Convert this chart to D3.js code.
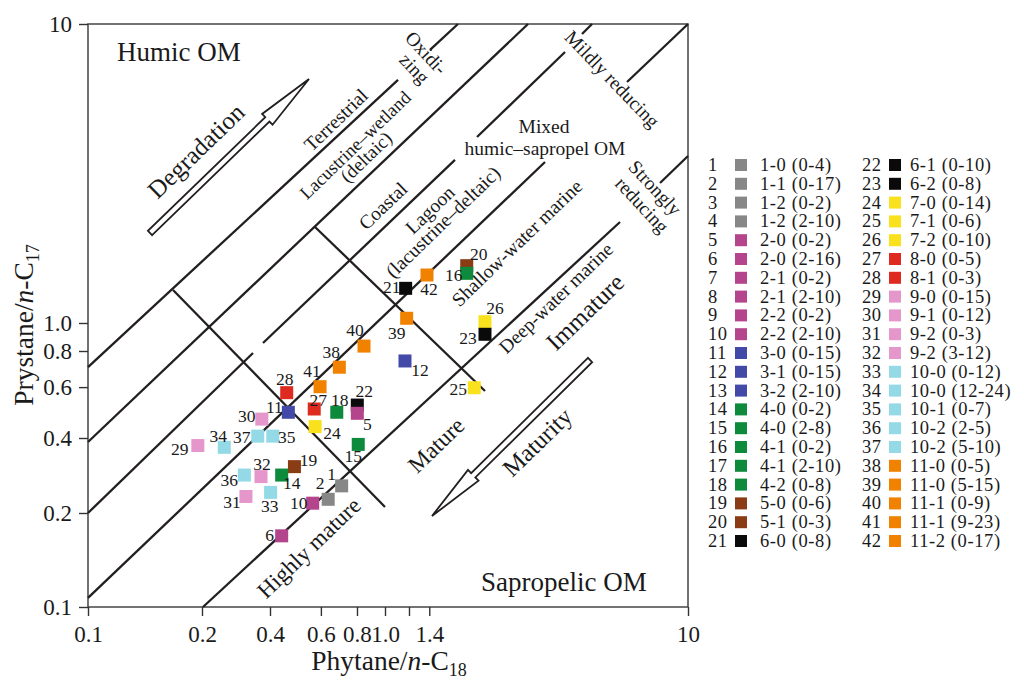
<!DOCTYPE html>
<html><head><meta charset="utf-8">
<script src="https://cdn.jsdelivr.net/npm/d3@7"></script>
<style>
body{margin:0;background:#fff}
text{font-family:"Liberation Serif","Times New Roman",serif;fill:#1a1a1a}
</style>
</head><body>
<svg id="chart" width="1019" height="679" font-family="Liberation Serif, serif"></svg>
<script>
// ---------------- DATA ----------------
const xTicks = [0.1, 0.2, 0.4, 0.6, 0.8, 1.0, 1.2, 1.4, 10];
const xTickLabels = ["0.1", "0.2", "0.4", "0.6", "0.8", "1.0", "", "1.4", "10"];
const yTicks = [0.1, 0.2, 0.4, 0.6, 0.8, 1.0, 10];
const yTickLabels = ["0.1", "0.2", "0.4", "0.6", "0.8", "1.0", "10"];

const sampleNames = ["1-0 (0-4)","1-1 (0-17)","1-2 (0-2)","1-2 (2-10)","2-0 (0-2)","2-0 (2-16)","2-1 (0-2)",
  "2-1 (2-10)","2-2 (0-2)","2-2 (2-10)","3-0 (0-15)","3-1 (0-15)","3-2 (2-10)","4-0 (0-2)","4-0 (2-8)",
  "4-1 (0-2)","4-1 (2-10)","4-2 (0-8)","5-0 (0-6)","5-1 (0-3)","6-0 (0-8)","6-1 (0-10)","6-2 (0-8)",
  "7-0 (0-14)","7-1 (0-6)","7-2 (0-10)","8-0 (0-5)","8-1 (0-3)","9-0 (0-15)","9-1 (0-12)","9-2 (0-3)",
  "9-2 (3-12)","10-0 (0-12)","10-0 (12-24)","10-1 (0-7)","10-2 (2-5)","10-2 (5-10)","11-0 (0-5)",
  "11-0 (5-15)","11-1 (0-9)","11-1 (9-23)","11-2 (0-17)"];
const sampleGroup = [1,1,1,1,2,2,2,2,2,2,3,3,3,4,4,4,4,4,5,5,6,6,6,7,7,7,8,8,9,9,9,9,10,10,10,10,10,11,11,11,11,11];
const groupColors = ["#878787","#b4448c","#4349a7","#0d8a3b","#8a3c14","#0a0a0a","#f9e11e","#df2a20","#e597cb","#93d9e6","#f08200"];

// Phytane/n-C18 (x) and Pristane/n-C17 (y); null = not visible in the plot
const phytane = [0.708,0.636,null,null,0.802,0.439,null,null,null,0.562,0.463,1.164,null,0.439,0.808,
  1.861,null,0.681,0.486,1.861,1.170,0.802,2.138,0.573,1.971,2.138,0.569,0.457,0.195,0.368,0.313,
  0.365,0.402,0.251,0.409,0.308,0.353,0.695,1.179,0.846,0.596,1.376];
const pristane = [0.257,0.227,null,null,0.487,0.169,null,null,null,0.219,0.491,0.739,null,0.284,0.377,
  1.466,null,0.491,0.307,1.555,1.306,0.520,0.914,0.438,0.597,1.010,0.504,0.574,0.373,0.465,0.233,
  0.280,0.242,0.367,0.406,0.284,0.406,0.703,1.037,0.832,0.602,1.447];

// boundary lines of the genetic diagram: [x1, y1, x2, y2] in data units
const boundaryLines = [
  [0.1, 0.704, 1.104, 6.50],      // A (terrestrial / lacustrine-wetland)
  [1.408, 8.19, 1.741, 10],
  [0.1, 0.3855, 2.965, 10],       // B
  [0.1, 0.2, 0.3364, 0.7873],     // C
  [0.3725, 0.8527, 1.702, 3.510],
  [2.012, 4.189, 3.928, 8.062],
  [4.468, 9.26, 4.823, 10],
  [0.1, 0.1069, 3.374, 3.455],    // D
  [6.291, 6.397, 10, 10],
  [0.2020, 0.1, 5.965, 2.177],    // E
  [8.085, 2.939, 10, 3.619],
  [0.1677, 1.289, 1.0, 0.2114],   // maturity boundaries
  [0.5725, 2.095, 2.138, 0.5817]
];
// hollow arrows: [tailX, tailY, tipX, tipY]
const arrows = [
  [0.1458, 2.000, 0.5458, 6.547], // Degradation
  [4.750, 0.7447, 1.429, 0.1956]  // Maturity
];
// field annotations: text, x, y (data units), angle, size
const annotations = [
  ["Degradation", 0.1928, 3.761, -44, 25],
  ["Terrestrial", 0.6768, 4.776, -44, 19.5],
  ["Lacustrine\u2013wetland", 0.7900, 3.930, -44, 18.5],
  ["(deltaic)", 0.8597, 3.592, -44, 19],
  ["Coastal", 0.9842, 2.462, -44, 19.5],
  ["Oxidi-", 1.366, 8.0, 47, 19.5],
  ["zing", 1.250, 7.10, 47, 19.5],
  ["Mildly reducing", 5.614, 6.547, 46, 19.5],
  ["Strongly", 7.782, 2.829, 47, 19.5],
  ["reducing", 7.050, 2.481, 47, 19.5],
  ["Lagoon", 1.408, 2.388, -44, 19.5],
  ["(lacustrine\u2013deltaic)", 1.554, 2.177, -44, 19.5],
  ["Shallow-water marine", 2.727, 1.852, -44, 19.5],
  ["Deep-water marine", 3.667, 1.212, -44, 19.5],
  ["Immature", 4.571, 1.088, -44, 25],
  ["Mature", 1.474, 0.375, -44, 23.5],
  ["Highly mature", 0.5458, 0.1545, -44, 23],
  ["Maturity", 3.176, 0.3855, -44, 24.5]
];
const flatAnnotations = [
  ["Humic OM", 0.1193, 7.52, "start", 27],
  ["Sapropelic OM", 2.074, 0.1125, "start", 27],
  ["Mixed", 3.348, 4.320, "middle", 19.5],
  ["humic\u2013sapropel OM", 3.373, 3.646, "middle", 19.5]
];

// ---------------- LAYOUT ----------------
const labelOffset = {1:[-10,-12],2:[-8,-16],5:[10,11],6:[-12,-1],10:[-14,0],11:[-14,-5],12:[15,9],14:[10,8],
  15:[-5,12],16:[-13,2],18:[3,-12],19:[14,-7],20:[12,-12],21:[-14,-1],22:[7,-14],23:[-17,4],24:[17,6],
  25:[-16,1],26:[10,-14],27:[4,-9],28:[-2,-14],29:[-18,3],30:[-15,-3],31:[-14,6],32:[1,-13],33:[-1,14],
  34:[-6,-11],35:[14,1],36:[-15,5],37:[-16,1],38:[-8,-15],39:[-10,15],40:[-9,-16],41:[-8,-16],42:[2,14]};

const svg = d3.select("#chart");
const x = d3.scaleLog().domain([0.1, 0.2, 0.4, 1, 10]).range([88, 202, 270, 385, 688]);
const y = d3.scaleLog().domain([0.1, 0.2, 0.4, 1, 10]).range([607, 513, 438, 323, 24]);
const ink = "#231f20";

// frame
svg.append("rect").attr("x", x(0.1)).attr("y", y(10)).attr("width", x(10) - x(0.1)).attr("height", y(0.1) - y(10))
  .attr("fill", "none").attr("stroke", "#444").attr("stroke-width", 1.5);

// axes
const xAxis = svg.append("g").attr("transform", `translate(0,${y(0.1)})`)
  .call(d3.axisBottom(x).tickValues(xTicks).tickFormat((d, i) => xTickLabels[i]).tickSize(9).tickPadding(10));
const yAxis = svg.append("g").attr("transform", `translate(${x(0.1)},0)`)
  .call(d3.axisLeft(y).tickValues(yTicks).tickFormat((d, i) => yTickLabels[i]).tickSize(9).tickPadding(7));
[xAxis, yAxis].forEach(g => {
  g.attr("font-family", null);
  g.select(".domain").remove();
  g.selectAll(".tick line").attr("stroke", "#333").attr("stroke-width", 1.4);
  g.selectAll(".tick text").attr("font-size", 23).attr("fill", "#1a1a1a");
});

// axis titles
const xt = svg.append("text").attr("x", 389).attr("y", 670).attr("text-anchor", "middle").attr("font-size", 27.5);
xt.append("tspan").text("Phytane/");
xt.append("tspan").attr("font-style", "italic").text("n");
xt.append("tspan").text("-C");
xt.append("tspan").attr("font-size", 18).attr("dy", 6).text("18");
const yt = svg.append("text").attr("transform", "translate(33,325) rotate(-90)").attr("text-anchor", "middle").attr("font-size", 27.5);
yt.append("tspan").text("Prystane/");
yt.append("tspan").attr("font-style", "italic").text("n");
yt.append("tspan").text("-C");
yt.append("tspan").attr("font-size", 18).attr("dy", 6).text("17");

// boundary lines
svg.append("g").selectAll("line").data(boundaryLines).join("line")
  .attr("x1", d => x(d[0])).attr("y1", d => y(d[1])).attr("x2", d => x(d[2])).attr("y2", d => y(d[3]))
  .attr("stroke", ink).attr("stroke-width", 2.3).attr("stroke-linecap", "butt");

// hollow arrows
function arrowPath(d) {
  const tx = x(d[0]), ty = y(d[1]), hx = x(d[2]), hy = y(d[3]);
  const len = Math.hypot(hx - tx, hy - ty), ux = (hx - tx) / len, uy = (hy - ty) / len;
  const nx = -uy, ny = ux, w = 3, h = 7.5, L = 58;
  const bx = hx - ux * L, by = hy - uy * L;
  const p = [[tx + nx * w, ty + ny * w], [bx + nx * w, by + ny * w], [bx + nx * h, by + ny * h], [hx, hy],
    [bx - nx * h, by - ny * h], [bx - nx * w, by - ny * w], [tx - nx * w, ty - ny * w]];
  return "M" + p.map(q => q.join(",")).join("L") + "Z";
}
svg.append("g").selectAll("path").data(arrows).join("path").attr("d", arrowPath)
  .attr("fill", "#fff").attr("stroke", ink).attr("stroke-width", 1.8).attr("stroke-linejoin", "miter");

// annotations
svg.append("g").selectAll("text").data(annotations).join("text")
  .attr("transform", d => `translate(${x(d[1])},${y(d[2])}) rotate(${d[3]})`)
  .attr("text-anchor", "middle").attr("dominant-baseline", "central").attr("font-size", d => d[4]).text(d => d[0]);
svg.append("g").selectAll("text").data(flatAnnotations).join("text")
  .attr("x", d => x(d[1])).attr("y", d => y(d[2])).attr("text-anchor", d => d[3]).attr("font-size", d => d[4]).text(d => d[0]);

// points (drawn in descending order so low numbers sit on top)
const pts = sampleNames.map((n, i) => ({id: i + 1, x: phytane[i], y: pristane[i], c: groupColors[sampleGroup[i] - 1]}))
  .filter(d => d.x != null).reverse();
const S = 13;
svg.append("g").selectAll("rect").data(pts).join("rect")
  .attr("x", d => x(d.x) - S / 2).attr("y", d => y(d.y) - S / 2).attr("width", S).attr("height", S).attr("fill", d => d.c);
svg.append("g").selectAll("text").data(pts).join("text")
  .attr("x", d => x(d.x) + labelOffset[d.id][0]).attr("y", d => y(d.y) + labelOffset[d.id][1])
  .attr("text-anchor", "middle").attr("dominant-baseline", "central").attr("font-size", 17.5).text(d => d.id);

// legend
const leg = svg.append("g");
sampleNames.forEach((n, i) => {
  const col = i < 21 ? 0 : 1, row = i % 21;
  const cy = 165 + row * 18.8;
  const x0 = col === 0 ? 708 : 862;
  leg.append("text").attr("x", x0).attr("y", cy).attr("dominant-baseline", "central").attr("font-size", 18.5)
    .attr("letter-spacing", 0.4).text(i + 1);
  leg.append("rect").attr("x", x0 + 27).attr("y", cy - 6).attr("width", 12).attr("height", 12)
    .attr("fill", groupColors[sampleGroup[i] - 1]);
  leg.append("text").attr("x", x0 + (col === 0 ? 52 : 48)).attr("y", cy).attr("dominant-baseline", "central")
    .attr("font-size", 18.5).attr("letter-spacing", 0.6).text(n);
});
</script>
</body></html>
